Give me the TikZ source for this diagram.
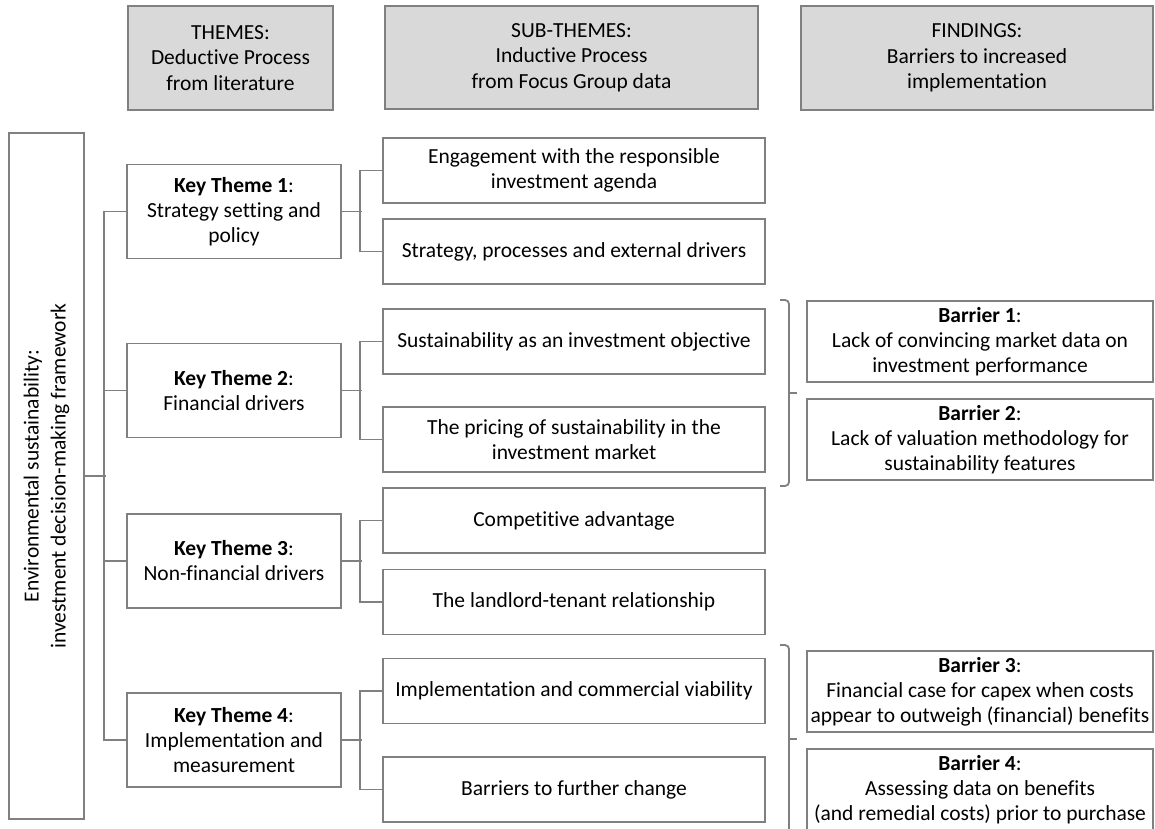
\documentclass[tikz,border=0pt]{standalone}
\usepackage{fontspec}
\setmainfont{Carlito}[Ligatures=NoCommon]
\usetikzlibrary{calc}
\definecolor{ln}{RGB}{128,128,128}
\definecolor{hdfill}{RGB}{217,217,217}
\tikzset{
  box/.style={draw=ln, line width=1.8pt, fill=white, align=center, inner sep=0pt,
    font=\fontsize{21.5}{25}\selectfont},
  hdr/.style={box, fill=hdfill, font=\fontsize{21.5}{25.5}\selectfont},
  conn/.style={draw=ln, line width=1.8pt},
  kt/.style={box, minimum width=214pt, minimum height=94pt},
  sub/.style={box, minimum width=382pt, minimum height=65pt},
  bar/.style={box, minimum width=346pt, minimum height=81pt},
}
\begin{document}
\begin{tikzpicture}[x=1pt,y=-1pt]
\useasboundingbox (0,0) rectangle (1155,828);
\clip (0,0) rectangle (1155,828);
\fill[white] (0,0) rectangle (1155,828);

% headers
\node[hdr, minimum width=205pt, minimum height=104pt] (h1) at (230.5,58) {THEMES:\\Deductive Process\\from literature};
\node[hdr, minimum width=373pt, minimum height=103pt] (h2) at (571.5,57.5) {SUB-THEMES:\\Inductive Process\\from Focus Group data};
\node[hdr, minimum width=352pt, minimum height=104pt] (h3) at (977,58) {FINDINGS:\\Barriers to increased\\implementation};

% left framework box
\node[box, minimum width=75pt, minimum height=686pt] (left) at (46.5,476) {};
\node[rotate=90, align=center, font=\fontsize{21.5}{27}\selectfont] (lefttext) at (left.center) {Environmental sustainability:\\investment decision-making framework};

% key themes
\node[kt] (kt1) at (234,211.5) {\textbf{Key Theme 1}:\\Strategy setting and\\policy};
\node[kt] (kt2) at (234,390.5) {\textbf{Key Theme 2}:\\Financial drivers};
\node[kt] (kt3) at (234,561) {\textbf{Key Theme 3}:\\Non-financial drivers};
\node[kt] (kt4) at (234,740) {\textbf{Key Theme 4}:\\Implementation and\\measurement};

% sub-themes
\node[sub] (s1) at (574,170.5) {Engagement with the responsible\\investment agenda};
\node[sub] (s2) at (574,251.5) {Strategy, processes and external drivers};
\node[sub] (s3) at (574,341.5) {Sustainability as an investment objective};
\node[sub] (s4) at (574,439.5) {The pricing of sustainability in the\\investment market};
\node[sub] (s5) at (574,520.5) {Competitive advantage};
\node[sub] (s6) at (574,602) {The landlord-tenant relationship};
\node[sub] (s7) at (574,691) {Implementation and commercial viability};
\node[sub] (s8) at (574,789.5) {Barriers to further change};

% barriers
\node[bar] (b1) at (980,341.5) {\textbf{Barrier 1}:\\Lack of convincing market data on\\investment performance};
\node[bar] (b2) at (980,439.5) {\textbf{Barrier 2}:\\Lack of valuation methodology for\\sustainability features};
\node[bar] (b3) at (980,691.5) {\textbf{Barrier 3}:\\Financial case for capex when costs\\appear to outweigh (financial) benefits};
\node[bar] (b4) at (980,789.5) {\textbf{Barrier 4}:\\Assessing data on benefits\\(and remedial costs) prior to purchase};

% trunk
\draw[conn] (left.east) -- ++(21,0);
\draw[conn] (kt1.west) -- ++(-22,0) coordinate (t1) -- (t1 |- kt4.west) -- (kt4.west);
\draw[conn] (kt2.west) -- ++(-22,0);
\draw[conn] (kt3.west) -- ++(-22,0);

% key theme -> sub-themes
\draw[conn] (kt1.east) -- ++(20,0);
\draw[conn] (s1.west) -- ++(-22,0) |- (s2.west);
\draw[conn] (kt2.east) -- ++(20,0);
\draw[conn] (s3.west) -- ++(-22,0) |- (s4.west);
\draw[conn] (kt3.east) -- ++(20,0);
\draw[conn] (s5.west) -- ++(-22,0) |- (s6.west);
\draw[conn] (kt4.east) -- ++(20,0);
\draw[conn] (s7.west) -- ++(-22,0) |- (s8.west);

% brackets
\draw[conn, rounded corners=4pt] (780,300) -- (789,300) -- (789,486) -- (780,486);
\draw[conn] (789,393) -- (797,393);
\draw[conn, rounded corners=4pt] (780,645) -- (789,645) -- (789,840) -- (780,840);
\draw[conn] (789,739) -- (797,739);
\end{tikzpicture}
\end{document}
